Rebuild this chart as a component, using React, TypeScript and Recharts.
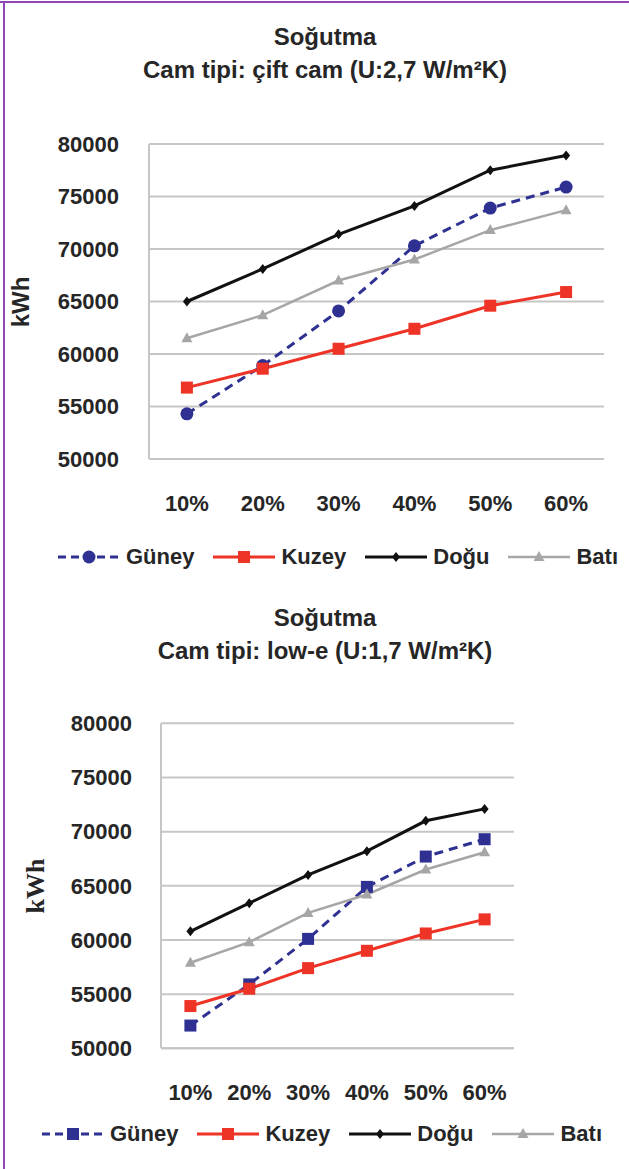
import React from "react";
import { LineChart, Line, XAxis, YAxis, CartesianGrid, Legend } from "recharts";

const CATEGORIES = ["10%", "20%", "30%", "40%", "50%", "60%"];
const Y_TICKS = [50000, 55000, 60000, 65000, 70000, 75000, 80000];

// çift cam (U:2,7)
const CIFT_GUNEY = [54300, 58900, 64100, 70300, 73900, 75900];
const CIFT_KUZEY = [56800, 58600, 60500, 62400, 64600, 65900];
const CIFT_DOGU = [65000, 68100, 71400, 74100, 77500, 78900];
const CIFT_BATI = [61500, 63700, 67000, 69000, 71800, 73700];

// low-e (U:1,7)
const LOWE_GUNEY = [52100, 55900, 60100, 64900, 67700, 69300];
const LOWE_KUZEY = [53900, 55500, 57400, 59000, 60600, 61900];
const LOWE_DOGU = [60800, 63400, 66000, 68200, 71000, 72100];
const LOWE_BATI = [57900, 59800, 62500, 64200, 66500, 68100];

const FONT = '"Liberation Sans", Arial, sans-serif';
const TEXT = "#262626";
const GRID = "#c6c6c6";

type Shape = "circle" | "square" | "diamond" | "triangle";

const Marker = ({ shape, cx, cy, color }: { shape: Shape; cx: number; cy: number; color: string }) => {
  if (shape === "circle") return <circle cx={cx} cy={cy} r={6.5} fill={color} />;
  if (shape === "square") return <rect x={cx - 6} y={cy - 6} width={12} height={12} fill={color} />;
  if (shape === "diamond")
    return <polygon points={`${cx},${cy - 5} ${cx + 4},${cy} ${cx},${cy + 5} ${cx - 4},${cy}`} fill={color} />;
  return <polygon points={`${cx},${cy - 6} ${cx + 5.5},${cy + 4} ${cx - 5.5},${cy + 4}`} fill={color} />;
};

function buildSeries(guneyShape: Shape) {
  return [
    { key: "guney", name: "Güney", color: "#2e3192", width: 3, dash: "9 6", shape: guneyShape },
    { key: "kuzey", name: "Kuzey", color: "#ee3327", width: 3, dash: undefined, shape: "square" as Shape },
    { key: "dogu", name: "Doğu", color: "#111111", width: 3, dash: undefined, shape: "diamond" as Shape },
    { key: "bati", name: "Batı", color: "#a6a6a6", width: 2.5, dash: undefined, shape: "triangle" as Shape },
  ];
}

function buildData(g: number[], k: number[], d: number[], b: number[]) {
  return CATEGORIES.map((c, i) => ({ cat: c, guney: g[i], kuzey: k[i], dogu: d[i], bati: b[i] }));
}

interface PanelProps {
  top: number;
  height: number;
  title: string;
  subtitle: string;
  data: any[];
  series: ReturnType<typeof buildSeries>;
  margin: { top: number; right: number; bottom: number; left: number };
  xPad: number;
  yTickGap: number;
  xTickGap: number;
  unitX: number;
  unitFont: string;
  unitSize: number;
  titleY: number;
  legendLeft: number;
  legendTop: number;
}

function Panel(p: PanelProps) {
  const plotCenterY = p.margin.top + (p.height - p.margin.top - p.margin.bottom - 60) / 2;
  return (
    <div style={{ position: "absolute", left: 0, top: p.top, width: 629, height: p.height }}>
      <div
        style={{
          position: "absolute",
          left: 0,
          width: 650,
          top: p.titleY - 16,
          textAlign: "center",
          fontFamily: FONT,
          fontWeight: "bold",
          fontSize: 24,
          lineHeight: "33px",
          color: TEXT,
        }}
      >
        <div>{p.title}</div>
        <div>{p.subtitle}</div>
      </div>
      <div
        style={{
          position: "absolute",
          left: p.unitX - 60,
          top: plotCenterY - 15,
          width: 120,
          height: 30,
          lineHeight: "30px",
          textAlign: "center",
          transform: "rotate(-90deg)",
          fontFamily: p.unitFont,
          fontWeight: "bold",
          fontSize: p.unitSize,
          color: TEXT,
        }}
      >
        kWh
      </div>
      <LineChart width={629} height={p.height} data={p.data} margin={p.margin} style={{ position: "absolute", left: 0, top: 0 }}>
        <CartesianGrid vertical={false} stroke={GRID} strokeWidth={2} />
        <XAxis
          dataKey="cat"
          height={60}
          padding={{ left: p.xPad, right: p.xPad }}
          axisLine={{ stroke: GRID, strokeWidth: 2 }}
          tickLine={false}
          tickSize={0}
          tickMargin={p.xTickGap}
          tick={{ fill: TEXT, fontFamily: FONT, fontWeight: "bold", fontSize: 22 }}
        />
        <YAxis
          width={60}
          domain={[50000, 80000]}
          ticks={Y_TICKS}
          interval={0}
          axisLine={{ stroke: GRID, strokeWidth: 2 }}
          tickLine={false}
          tickSize={0}
          tickMargin={p.yTickGap}
          tick={{ fill: TEXT, fontFamily: FONT, fontWeight: "bold", fontSize: 22 }}
        />
        <Legend
          layout="vertical"
          align="center"
          verticalAlign="middle"
          wrapperStyle={{ left: p.legendLeft, top: p.legendTop, width: 629 - p.legendLeft, height: 30 }}
          content={() => (
            <div style={{ display: "flex", alignItems: "center", whiteSpace: "nowrap" }}>
              {p.series.map((s) => (
                <div key={s.key} style={{ display: "flex", alignItems: "center", marginRight: 19 }}>
                  <svg width={62} height={20}>
                    <line x1={0} y1={10} x2={62} y2={10} stroke={s.color} strokeWidth={s.width} strokeDasharray={s.dash ? "8 5" : undefined} />
                    <Marker shape={s.shape} cx={31} cy={10} color={s.color} />
                  </svg>
                  <span style={{ marginLeft: 6, fontFamily: FONT, fontWeight: "bold", fontSize: 22, color: TEXT, lineHeight: "30px" }}>
                    {s.name}
                  </span>
                </div>
              ))}
            </div>
          )}
        />
        {p.series.map((s) => (
          <Line
            key={s.key}
            dataKey={s.key}
            name={s.name}
            type="linear"
            stroke={s.color}
            strokeWidth={s.width}
            strokeDasharray={s.dash}
            isAnimationActive={false}
            activeDot={false}
            dot={(d: any) => <Marker key={`${s.key}-${d.index}`} shape={s.shape} cx={d.cx} cy={d.cy} color={s.color} />}
          />
        ))}
      </LineChart>
    </div>
  );
}

export default function App() {
  const topData = buildData(CIFT_GUNEY, CIFT_KUZEY, CIFT_DOGU, CIFT_BATI);
  const bottomData = buildData(LOWE_GUNEY, LOWE_KUZEY, LOWE_DOGU, LOWE_BATI);
  return (
    <div style={{ position: "absolute", left: 0, top: 0, width: 629, height: 1169, background: "#fff", overflow: "hidden" }}>
      <div style={{ position: "absolute", left: 0, top: 1, width: 629, height: 2, background: "#9146b5" }} />
      <div style={{ position: "absolute", left: 3, top: 1, width: 2, height: 1168, background: "#9146b5" }} />
      <Panel
        top={0}
        height={590}
        title="Soğutma"
        subtitle="Cam tipi: çift cam  (U:2,7 W/m²K)"
        data={topData}
        series={buildSeries("circle")}
        margin={{ top: 144, right: 25, bottom: 71, left: 89 }}
        xPad={37.9}
        yTickGap={30}
        xTickGap={36}
        unitX={21}
        unitFont={FONT}
        unitSize={24}
        titleY={36}
        legendLeft={58}
        legendTop={542}
      />
      <Panel
        top={590}
        height={579}
        title="Soğutma"
        subtitle="Cam tipi: low-e (U:1,7 W/m²K)"
        data={bottomData}
        series={buildSeries("square")}
        margin={{ top: 133.3, right: 115, bottom: 60.7, left: 101 }}
        xPad={29.4}
        yTickGap={29}
        xTickGap={36}
        unitX={36}
        unitFont={'"Liberation Serif", "Times New Roman", serif'}
        unitSize={26}
        titleY={27}
        legendLeft={42}
        legendTop={529}
      />
    </div>
  );
}
